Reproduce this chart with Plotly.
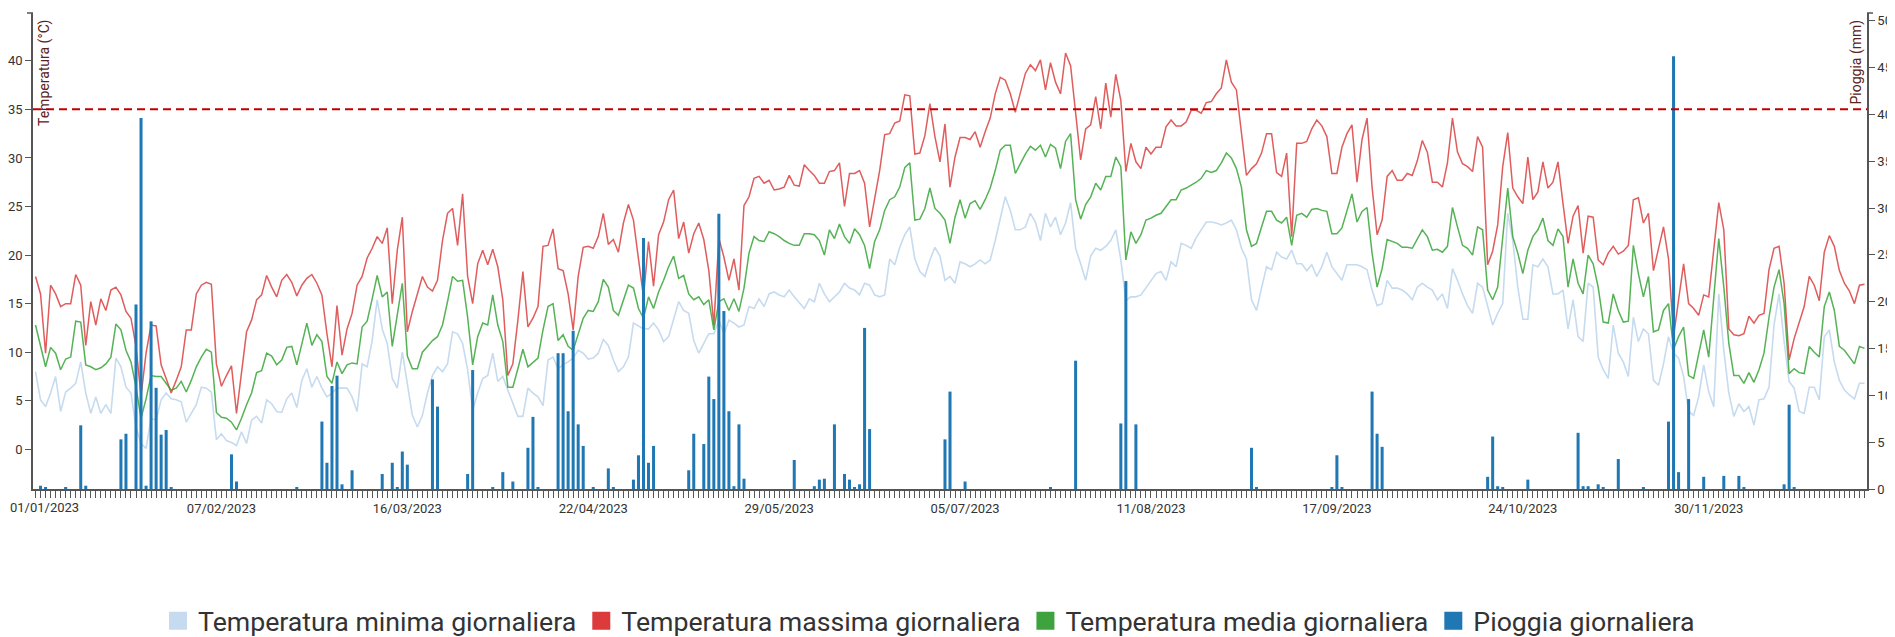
import plotly.graph_objects as go
import pandas as pd

# ---------------- data ----------------
t_max = [
    17.8, 16.0, 9.9, 16.9, 16.0, 14.7, 15.0, 15.0, 18.0, 16.9,
    10.7, 15.2, 12.8, 15.5, 14.3, 16.4, 16.7, 15.9, 14.2, 13.5,
    10.6, 5.5, 9.9, 12.8, 12.7, 8.7, 7.3, 5.8, 7.1, 8.5,
    12.3, 12.3, 16.0, 16.9, 17.2, 17.0, 8.8, 6.5, 7.6, 8.6,
    3.7, 8.0, 12.1, 13.3, 15.4, 15.9, 17.9, 16.7, 15.7, 17.4,
    18.0, 17.2, 15.8, 16.9, 17.6, 18.0, 17.1, 15.9, 11.9, 8.5,
    14.8, 9.7, 12.4, 14.0, 16.9, 17.8, 19.7, 20.7, 21.9, 21.2,
    22.8, 15.0, 20.5, 23.9, 12.1, 14.2, 16.0, 17.8, 16.7, 16.3,
    17.4, 21.5, 24.3, 24.8, 21.0, 26.3, 17.8, 15.0, 19.1, 20.5,
    19.0, 20.6, 18.8, 15.4, 7.6, 8.8, 13.3, 18.3, 12.6, 13.5,
    14.7, 20.9, 21.0, 22.7, 18.6, 18.4, 16.0, 12.3, 17.8, 20.8,
    20.9, 20.7, 21.9, 24.3, 21.1, 21.6, 20.3, 23.3, 25.2, 23.6,
    19.6, 15.7, 21.4, 16.8, 22.1, 23.4, 25.7, 26.7, 21.7, 23.4,
    20.2, 22.2, 23.3, 21.6, 18.4, 12.8, 21.7, 19.8, 17.4, 19.6,
    16.4, 25.1, 26.0, 27.9, 28.1, 27.4, 27.7, 26.7, 26.8, 27.0,
    28.2, 27.2, 27.1, 29.3, 28.7, 28.2, 27.4, 27.4, 28.6, 28.7,
    29.5, 25.0, 28.4, 28.4, 28.7, 27.4, 22.9, 25.8, 28.7, 32.4,
    32.5, 33.6, 33.8, 36.5, 36.4, 30.4, 30.5, 32.3, 35.6, 32.2,
    29.6, 33.5, 27.0, 30.1, 32.1, 32.1, 31.9, 32.7, 31.1, 32.7,
    34.1, 36.6, 38.3, 38.0, 36.6, 34.7, 36.6, 38.7, 39.6, 39.0,
    40.1, 37.0, 39.8, 37.8, 36.6, 40.8, 39.5, 34.9, 29.8, 33.0,
    33.4, 36.3, 33.0, 37.7, 34.2, 38.6, 35.9, 28.6, 31.5, 29.6,
    28.9, 31.1, 30.4, 31.1, 31.1, 33.2, 33.9, 33.3, 33.3, 33.7,
    34.9, 34.9, 34.6, 35.7, 35.8, 36.6, 37.2, 40.1, 37.8, 37.0,
    32.5, 28.2, 28.9, 29.4, 30.5, 32.5, 32.5, 28.5, 28.1, 30.5,
    21.9, 31.5, 31.5, 31.7, 33.0, 33.9, 33.3, 32.2, 28.4, 28.4,
    31.1, 32.5, 33.4, 27.5, 31.9, 34.1, 27.0, 22.1, 23.6, 28.1,
    28.7, 27.7, 27.7, 28.4, 28.2, 29.7, 31.8, 30.6, 27.5, 27.5,
    27.0, 29.5, 34.1, 30.6, 29.4, 29.1, 28.6, 32.2, 31.1, 19.0,
    20.4, 23.1, 29.1, 32.6, 26.9, 26.0, 25.3, 30.1, 25.7, 26.5,
    29.6, 26.9, 27.5, 29.6, 25.3, 21.2, 24.0, 25.1, 20.2, 24.0,
    23.9, 19.5, 19.0, 20.2, 20.9, 20.1, 20.4, 21.0, 25.7, 25.9,
    23.3, 24.3, 18.4, 20.8, 22.9, 19.6, 11.6, 15.4, 19.1, 15.0,
    14.5, 13.8, 15.9, 15.7, 20.7, 25.4, 22.6, 12.4, 11.8, 11.7,
    11.9, 13.7, 13.0, 13.8, 14.0, 18.5, 20.7, 20.9, 17.1, 9.2,
    11.4, 13.0, 14.7, 17.8, 16.9, 15.3, 20.3, 22.0, 20.9, 18.4,
    17.1, 16.3, 15.0, 16.9, 17.0,
]

t_mean = [
    12.8, 10.6, 8.5, 10.5, 9.9, 8.2, 9.3, 9.5, 13.2, 13.1,
    8.7, 8.5, 8.2, 8.4, 8.8, 9.5, 12.9, 12.3, 10.2, 9.0,
    6.4, 3.2, 5.2, 7.6, 7.5, 7.5, 6.8, 6.1, 6.3, 7.0,
    5.9, 7.1, 8.5, 9.5, 10.3, 10.0, 3.8, 3.3, 3.2, 2.8,
    2.0, 3.2, 4.6, 5.8, 7.9, 8.1, 9.9, 9.6, 8.7, 9.2,
    10.5, 10.6, 8.7, 10.9, 13.0, 10.7, 11.8, 11.1, 7.5, 6.8,
    9.0, 7.8, 8.7, 8.9, 8.8, 12.6, 13.2, 15.5, 17.9, 15.7,
    16.2, 10.6, 14.0, 17.1, 9.6, 8.3, 8.3, 10.0, 10.6, 11.2,
    11.6, 12.8, 15.2, 17.8, 17.3, 17.4, 13.6, 8.7, 11.6, 13.0,
    12.8, 15.9, 12.8, 11.1, 6.4, 6.4, 8.3, 10.3, 8.5, 9.0,
    9.4, 12.3, 14.7, 15.0, 11.2, 11.8, 10.6, 10.2, 11.9, 13.5,
    14.3, 14.2, 15.2, 17.5, 16.7, 14.3, 13.8, 15.4, 16.9, 16.6,
    14.5, 13.5, 15.7, 14.5, 16.2, 17.4, 18.8, 19.9, 17.6, 17.9,
    16.0, 15.4, 15.7, 14.9, 15.4, 12.3, 15.2, 15.5, 14.3, 15.5,
    14.2, 16.6, 20.2, 21.9, 21.5, 21.4, 22.4, 22.2, 21.9, 21.5,
    21.2, 21.0, 21.0, 22.2, 22.2, 22.1, 21.5, 20.0, 22.6, 21.7,
    23.2, 21.9, 21.2, 22.7, 22.1, 21.0, 18.6, 21.4, 22.6, 24.6,
    25.7, 26.0, 27.0, 29.0, 29.5, 23.6, 23.7, 24.8, 26.9, 24.8,
    24.3, 23.6, 21.2, 23.9, 25.7, 23.8, 25.3, 25.6, 24.7, 25.7,
    26.9, 28.7, 30.8, 31.3, 31.3, 28.4, 29.4, 30.4, 31.2, 30.8,
    31.3, 30.1, 31.4, 31.0, 28.9, 31.7, 32.5, 25.7, 23.7, 25.2,
    26.0, 27.4, 26.7, 28.1, 28.1, 30.1, 29.1, 19.5, 22.4, 21.2,
    22.1, 23.6, 23.8, 24.1, 24.3, 25.0, 25.7, 25.7, 26.7, 26.9,
    27.2, 27.5, 27.9, 28.7, 28.5, 28.7, 29.5, 30.5, 30.0, 28.9,
    27.0, 22.6, 20.9, 21.2, 22.9, 24.5, 24.5, 23.6, 23.3, 23.9,
    21.0, 24.1, 24.3, 23.9, 24.7, 24.8, 24.6, 24.5, 22.2, 22.2,
    22.8, 24.6, 26.3, 23.4, 24.5, 24.9, 20.2, 16.7, 18.6, 21.6,
    21.4, 21.2, 20.8, 20.8, 20.7, 21.7, 22.6, 21.9, 20.5, 20.6,
    20.3, 20.9, 24.9, 22.9, 21.0, 20.7, 20.0, 22.9, 22.6, 16.4,
    15.4, 16.7, 22.2, 26.9, 21.9, 20.2, 18.1, 20.5, 21.9, 22.6,
    23.8, 21.5, 21.0, 22.7, 21.9, 16.7, 19.6, 17.1, 16.0, 20.0,
    19.1, 16.7, 13.1, 13.0, 16.0, 14.3, 13.1, 13.2, 21.0, 18.1,
    15.7, 17.8, 12.1, 12.3, 14.3, 15.0, 10.3, 11.6, 12.6, 7.6,
    7.3, 9.9, 12.3, 9.5, 15.4, 21.7, 16.7, 10.9, 7.6, 7.6,
    6.8, 7.9, 6.9, 8.2, 9.9, 13.6, 16.7, 18.5, 15.0, 7.8,
    8.3, 7.9, 7.8, 10.6, 10.0, 9.5, 14.7, 16.2, 14.3, 10.6,
    10.2, 9.5, 8.8, 10.6, 10.4,
]

t_min = [
    8.0, 5.1, 4.4, 5.8, 7.5, 3.9, 5.9, 6.3, 6.8, 9.0,
    5.8, 3.7, 5.4, 3.7, 4.6, 3.7, 9.4, 8.5, 6.4, 5.8,
    2.3, 0.6, 0.1, 3.2, 3.0, 5.1, 5.8, 5.2, 5.1, 4.9,
    2.8, 3.7, 4.6, 6.4, 6.3, 5.9, 1.0, 1.6, 0.9, 0.7,
    0.4, 1.8, 0.6, 3.0, 3.4, 2.7, 5.1, 4.7, 3.9, 3.8,
    5.2, 5.8, 4.3, 7.1, 8.3, 6.4, 7.5, 6.3, 5.4, 5.8,
    6.3, 6.3, 6.3, 5.4, 3.9, 8.8, 8.5, 11.2, 15.4, 12.4,
    10.9, 7.3, 6.3, 10.0, 6.8, 3.5, 2.3, 3.5, 5.8, 7.6,
    8.5, 8.0, 8.8, 12.1, 11.9, 10.9, 8.2, 4.0, 5.8, 7.3,
    7.6, 9.9, 7.0, 7.5, 6.1, 4.7, 3.4, 3.4, 6.3, 5.8,
    5.4, 4.5, 9.2, 9.5, 8.3, 8.7, 9.0, 9.4, 10.2, 9.9,
    9.3, 9.4, 9.9, 11.3, 10.7, 9.2, 8.0, 8.5, 9.5, 13.0,
    12.7, 12.4, 12.4, 13.0, 12.3, 11.1, 11.6, 13.5, 15.2, 14.3,
    14.0, 11.2, 9.9, 10.9, 11.9, 11.9, 13.3, 11.9, 13.3, 13.0,
    12.6, 12.8, 14.7, 14.5, 15.5, 14.7, 16.0, 16.2, 15.9, 15.7,
    16.4, 15.7, 15.1, 14.5, 15.5, 15.2, 17.1, 16.0, 15.2, 15.7,
    16.2, 17.1, 16.6, 16.4, 15.9, 17.1, 16.9, 15.9, 15.7, 15.9,
    19.6, 19.0, 20.8, 22.1, 22.9, 19.6, 18.3, 17.8, 19.5, 20.8,
    19.9, 17.4, 17.8, 17.1, 19.3, 19.1, 18.8, 19.1, 19.5, 19.1,
    19.5, 21.5, 23.9, 26.0, 24.6, 22.6, 22.6, 22.9, 24.3, 23.4,
    21.5, 24.3, 22.9, 23.9, 22.1, 23.3, 25.4, 20.7, 19.1, 17.4,
    19.9, 20.7, 20.5, 20.9, 21.5, 22.6, 19.5, 15.3, 15.7, 15.7,
    15.9, 16.6, 17.4, 18.1, 18.3, 17.4, 19.3, 18.8, 21.2, 21.0,
    20.7, 21.8, 22.6, 23.4, 23.4, 23.3, 23.1, 23.3, 23.6, 22.6,
    20.7, 19.6, 15.4, 14.3, 16.6, 18.8, 18.5, 20.3, 19.8, 19.6,
    20.5, 19.1, 19.1, 18.4, 19.0, 17.8, 18.8, 20.3, 18.8, 18.1,
    17.4, 19.0, 19.0, 19.0, 18.8, 18.5, 16.4, 14.8, 15.0, 17.4,
    16.6, 16.6, 16.4, 16.0, 15.4, 16.7, 17.1, 16.7, 16.4, 15.4,
    16.0, 14.5, 18.6, 17.4, 16.0, 14.8, 14.0, 17.1, 16.7, 14.7,
    12.8, 14.0, 15.0, 24.3, 21.5, 16.7, 13.4, 13.4, 19.0, 18.8,
    19.6, 18.8, 16.0, 16.0, 16.4, 12.4, 15.4, 11.6, 11.1, 17.1,
    16.7, 9.5, 8.2, 7.3, 12.8, 9.9, 9.0, 7.5, 13.6, 11.1,
    12.4, 11.9, 7.1, 6.6, 8.8, 11.6, 9.9, 9.4, 7.5, 3.9,
    3.5, 5.4, 8.7, 5.9, 4.4, 16.0, 10.2, 5.8, 3.4, 4.7,
    3.9, 4.4, 2.5, 5.1, 5.2, 6.4, 12.8, 16.0, 11.1, 7.0,
    6.3, 3.9, 3.7, 6.4, 6.4, 5.1, 11.6, 12.3, 9.0, 7.1,
    6.1, 5.6, 5.2, 6.8, 6.8,
]

# rainy days (day-of-year index, 0 = 01/01/2023) and daily rain in mm
rain_days = [1, 2, 6, 9, 10, 17, 18, 20, 21, 22, 23, 24, 25, 26, 27, 39, 40,
             52, 57, 58, 59, 60, 61, 63, 69, 71, 72, 73, 74, 79, 80, 86, 87,
             91, 93, 95, 98, 99, 100, 104, 105, 106, 107, 108, 109, 111, 114, 115, 119, 120, 121, 122, 123, 130, 131,
             133, 134, 135, 136, 137, 138, 139, 140, 141, 151, 155, 156, 157, 159, 161, 162, 163, 164, 165, 166,
             181, 182, 185, 202, 207, 216, 217, 219, 242, 243, 258, 259, 260,
             266, 267, 268, 289, 290, 291, 292, 297, 307, 308, 309, 311, 312, 315, 320, 325, 326, 327, 329, 332,
             336, 339, 340, 348, 349, 350]
rain_mm = [0.35, 0.2, 0.2, 6.8, 0.35, 5.3, 5.9, 19.7, 39.6, 0.35, 17.9, 10.8, 5.8, 6.3, 0.2, 3.7, 0.8,
           0.2, 7.2, 2.8, 11.0, 12.1, 0.5, 2.0, 1.6, 2.8, 0.2, 4.0, 2.6, 11.7, 8.8, 1.6, 12.7,
           0.2, 1.8, 0.8, 4.4, 7.7, 0.2, 14.5, 14.5, 8.3, 16.9, 6.9, 4.6, 0.2, 2.2, 0.2, 1.0, 3.6, 26.8, 2.8, 4.6, 2.0, 5.9,
           4.8, 12.0, 9.6, 29.4, 19.0, 8.3, 0.3, 6.9, 1.1, 3.1, 0.3, 1.0, 1.1, 6.9, 1.6, 1.0, 0.2, 0.5, 17.2, 6.4,
           5.3, 10.4, 0.8, 0.2, 13.7, 7.0, 22.2, 6.9, 4.4, 0.2, 0.2, 3.6, 0.2,
           10.4, 5.9, 4.5, 1.3, 5.6, 0.3, 0.2, 1.0, 6.0, 0.3, 0.3, 0.5, 0.2, 3.2, 0.2, 7.2, 46.2, 1.8, 9.6, 1.3,
           1.4, 1.4, 0.2, 0.5, 9.0, 0.2]

tick_labels = ["01/01/2023", "07/02/2023", "16/03/2023", "22/04/2023", "29/05/2023",
               "05/07/2023", "11/08/2023", "17/09/2023", "24/10/2023", "30/11/2023"]
temp_ticks = [0, 5, 10, 15, 20, 25, 30, 35, 40]
rain_ticks = [0, 5, 10, 15, 20, 25, 30, 35, 40, 45, 50]
threshold = 35

series_names = ["Temperatura minima giornaliera", "Temperatura massima giornaliera",
                "Temperatura media giornaliera", "Pioggia giornaliera"]

# ---------------- build ----------------
dates = pd.date_range("2023-01-01", "2023-12-31", freq="D")
assert len(t_max) == len(dates) and len(t_mean) == len(dates) and len(t_min) == len(dates)
assert len(rain_days) == len(rain_mm)
rain = [0.0] * len(dates)
for d, v in zip(rain_days, rain_mm):
    rain[d] = v

label_dates = pd.to_datetime(tick_labels, format="%d/%m/%Y")
label_map = {ld: lbl for ld, lbl in zip(label_dates, tick_labels)}
all_ticktext = [label_map.get(d, "") for d in dates]
# the first label would cross the page edge: it is drawn as a left-anchored annotation instead
first_label = all_ticktext[0]
all_ticktext[0] = ""

C_MIN = "#c6dbef"
C_MAX = "#d62728"
C_MEAN = "#2ca02c"
C_RAIN = "#1f77b4"

fig = go.Figure()
fig.add_trace(go.Scatter(x=dates, y=t_min, mode="lines", line=dict(color=C_MIN, width=1.6),
                         showlegend=False, hoverinfo="skip"))
fig.add_trace(go.Scatter(x=dates, y=t_max, mode="lines", line=dict(color=C_MAX, width=1.5),
                         opacity=0.75, showlegend=False, hoverinfo="skip"))
fig.add_trace(go.Scatter(x=dates, y=t_mean, mode="lines", line=dict(color=C_MEAN, width=1.5),
                         opacity=0.8, showlegend=False, hoverinfo="skip"))
fig.add_trace(go.Bar(x=dates, y=rain, yaxis="y2", marker=dict(color=C_RAIN, line=dict(width=0)),
                     width=0.6 * 86400000, showlegend=False, hoverinfo="skip"))

# legend entries (square swatches)
for name, col in zip(series_names, [C_MIN, "#dc3b3b", "#3ea33e", C_RAIN]):
    fig.add_trace(go.Scatter(x=[None], y=[None], mode="markers", name=name,
                             marker=dict(symbol="square", size=16, color=col, line=dict(color=col, width=2))))

# page has an 8px body margin; work in page pixels and convert
OFF = 8
W, H = 1895 - OFF, 637 - OFF
PL, PR, PT, PB = 33, 1867, 13, 489          # plot area in page pixels
L, R, T = PL - OFF, (W + OFF) - PR, PT - OFF
B = (H + OFF) - PB
pw = PR - PL
ph = PB - PT


def px_x(xp):
    return (xp - PL) / pw


def px_y(yp):
    return (PB - yp) / ph


axis_col = "#555"
tick_font = dict(family="Roboto", size=13, color="#333")

fig.update_layout(
    width=W, height=H,
    margin=dict(l=L, r=R, t=T, b=B, autoexpand=False),
    plot_bgcolor="white", paper_bgcolor="white",
    font=dict(family="Roboto", size=13, color="#333"),
    showlegend=True,
    legend=dict(orientation="h", x=px_x(158), xanchor="left",
                y=px_y(621), yanchor="middle",
                font=dict(family="Roboto", size=26.7, color="#333"),
                bgcolor="rgba(0,0,0,0)", traceorder="normal"),
    xaxis=dict(type="date",
               range=[pd.Timestamp("2022-12-31 12:00"), pd.Timestamp("2023-12-31 12:00")],
               tickmode="array", tickvals=list(dates), ticktext=all_ticktext, tickangle=0,
               ticklabeloverflow="allow",
               ticks="outside", ticklen=7, tickwidth=1, tickcolor=axis_col,
               showline=True, linecolor=axis_col, linewidth=1.5,
               showgrid=False, zeroline=False, tickfont=tick_font, fixedrange=True),
    yaxis=dict(range=[-4.08, 44.92], tickmode="array", tickvals=temp_ticks,
               ticklabeloverflow="allow",
               ticks="outside", ticklen=6, tickcolor=axis_col,
               showline=True, linecolor=axis_col, linewidth=1.5,
               showgrid=False, zeroline=False, tickfont=tick_font),
    yaxis2=dict(range=[0, 50.82], overlaying="y", side="right", tickmode="array", tickvals=rain_ticks,
                ticklabeloverflow="allow",
                ticks="outside", ticklen=6, tickcolor=axis_col,
                showline=True, linecolor=axis_col, linewidth=1.5,
                showgrid=False, zeroline=False, tickfont=tick_font),
    shapes=[
        dict(type="line", xref="x domain", x0=0, x1=1, yref="y", y0=threshold, y1=threshold,
             line=dict(color="#c00000", width=2, dash="8px,5px"), layer="above"),
        dict(type="line", xref="paper", x0=-6 / pw, x1=0, yref="paper", y0=1, y1=1,
             line=dict(color=axis_col, width=1.5)),
        dict(type="line", xref="paper", x0=1, x1=1 + 6 / pw, yref="paper", y0=1, y1=1,
             line=dict(color=axis_col, width=1.5)),
    ],
    annotations=[
        dict(text="Temperatura (°C)", xref="paper", yref="paper",
             x=px_x(45), y=px_y(18), xanchor="center", yanchor="top",
             textangle=-90, showarrow=False, font=dict(family="Roboto", size=14, color="#5a2222")),
        dict(text="Pioggia (mm)", xref="paper", yref="paper",
             x=px_x(1856), y=px_y(18), xanchor="center", yanchor="top",
             textangle=-90, showarrow=False, font=dict(family="Roboto", size=14, color="#5a2222")),
        dict(text=first_label, xref="paper", yref="paper",
             x=px_x(OFF + 1), y=px_y(507), xanchor="left", yanchor="middle",
             showarrow=False, font=tick_font, borderpad=0),
    ],
)

fig.write_html("out.html")
